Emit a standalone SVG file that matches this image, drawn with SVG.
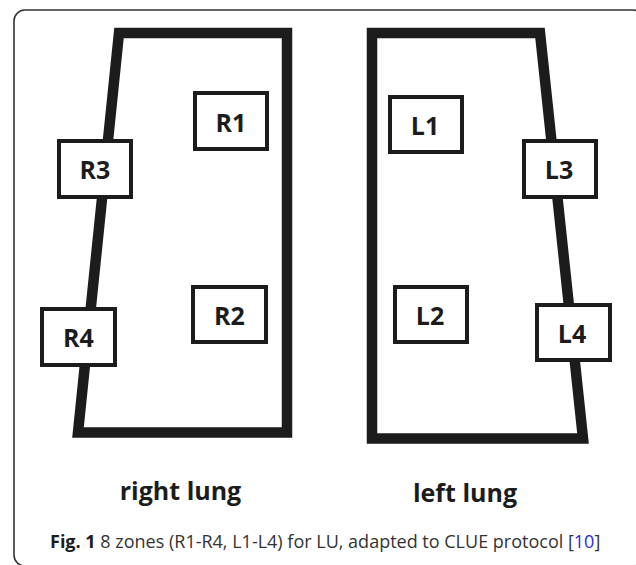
<svg xmlns="http://www.w3.org/2000/svg" width="636" height="565" viewBox="0 0 636 565">
<style>
.lung{fill:none;stroke:#1c1c1c;stroke-width:10.5;stroke-linejoin:miter}
.zone rect{fill:#fff;stroke:#1c1c1c;stroke-width:4}
.zone text{font-family:"Open Sans","Liberation Sans",sans-serif;font-weight:bold;font-size:25px;fill:#1c1c1c;text-anchor:middle}
.title{font-family:"Open Sans","Liberation Sans",sans-serif;font-weight:bold;font-size:25px;fill:#1c1c1c;text-anchor:middle}
.cap{font-family:"Open Sans","Liberation Sans",sans-serif;font-size:18px;fill:#333}
</style>
<rect width="636" height="565" fill="#fff"/>
<rect x="14" y="10" width="630" height="556" rx="11" ry="11" fill="none" stroke="#333" stroke-width="1.6"/>
<g id="outlines">
<polygon id="right-lung" class="lung" points="119,33 287,33 287,432.5 78,432.5"/>
<polygon id="left-lung" class="lung" points="372,33 540,33 583,438.5 372,438.5"/>
</g>
<g id="R1" class="zone"><rect x="195" y="93" width="72" height="56"/><text x="231" y="132">R1</text></g>
<g id="R3" class="zone"><rect x="59" y="141" width="72" height="56"/><text x="95" y="179">R3</text></g>
<g id="R2" class="zone"><rect x="193" y="287" width="73" height="55"/><text x="229.5" y="325">R2</text></g>
<g id="R4" class="zone"><rect x="42" y="309" width="73" height="56"/><text x="78.5" y="347">R4</text></g>
<g id="L1" class="zone"><rect x="390" y="97" width="72" height="55"/><text x="425" y="135">L1</text></g>
<g id="L3" class="zone"><rect x="524" y="141" width="72" height="56"/><text x="559" y="179">L3</text></g>
<g id="L2" class="zone"><rect x="395" y="287" width="72" height="55"/><text x="430" y="325">L2</text></g>
<g id="L4" class="zone"><rect x="537" y="305" width="73" height="55"/><text x="572" y="343">L4</text></g>
<text class="title" x="180.5" y="500">right lung</text>
<text class="title" x="465" y="502">left lung</text>
<text class="cap" x="50" y="548"><tspan font-weight="bold" fill="#1c1c1c">Fig. 1</tspan> 8 zones (R1-R4, L1-L4) for LU, adapted to CLUE protocol [<tspan fill="#2a2adf">10</tspan>]</text>
</svg>
